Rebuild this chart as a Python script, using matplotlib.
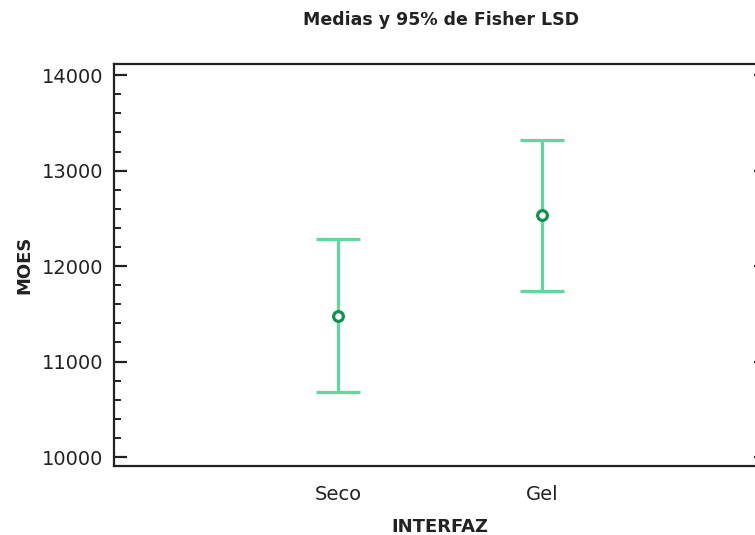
import numpy as np
import matplotlib.pyplot as plt
from matplotlib.ticker import MultipleLocator

# data
categories = ['Seco', 'Gel']
means = [11482, 12531]
half_lsd = [800, 789]
yticks = [10000, 11000, 12000, 13000, 14000]

plt.rcParams['font.family'] = ['DejaVu Sans']

fig = plt.figure(figsize=(7.55, 5.35), dpi=100)
# right spine sits just outside the picture, like in the original
ax = fig.add_axes([114/755, 1 - 466/535, 652/755, (466-64)/535])

x = np.arange(1, len(categories) + 1)
ax.errorbar(x, means, yerr=half_lsd, fmt='none', ecolor='#62d69f',
            elinewidth=2.3, capsize=16, capthick=2.3, zorder=2)
ax.plot(x, means, 'o', mfc='white', mec='#138f4f', mew=2.3, ms=7, zorder=3)

ax.set_xlim(-0.10, 3.10)
ax.set_ylim(9906, 14117)
ax.set_xticks(x)
ax.set_xticklabels(categories)
ax.set_yticks(yticks)
ax.yaxis.set_minor_locator(MultipleLocator(200))

for s in ax.spines.values():
    s.set_linewidth(1.6)
    s.set_color('#222222')

ax.tick_params(axis='y', which='major', direction='in', length=9, width=1.6,
               right=True, labelsize=14, colors='#222222', pad=8)
ax.tick_params(axis='y', which='minor', direction='in', length=5, width=1.4,
               right=False, colors='#222222')
ax.tick_params(axis='x', length=0, labelsize=14, colors='#222222', pad=14)

ax.set_xlabel('INTERFAZ', fontsize=13, fontweight='bold', color='#222222', labelpad=10)
ax.set_ylabel('MOES', fontsize=13, fontweight='bold', color='#222222', labelpad=6)
fig.text(441/755, 1 - 20/535, 'Medias y 95% de Fisher LSD', ha='center', va='center',
         fontsize=12.5, fontweight='bold', color='#222222')

fig.savefig('out.png', dpi=100)
